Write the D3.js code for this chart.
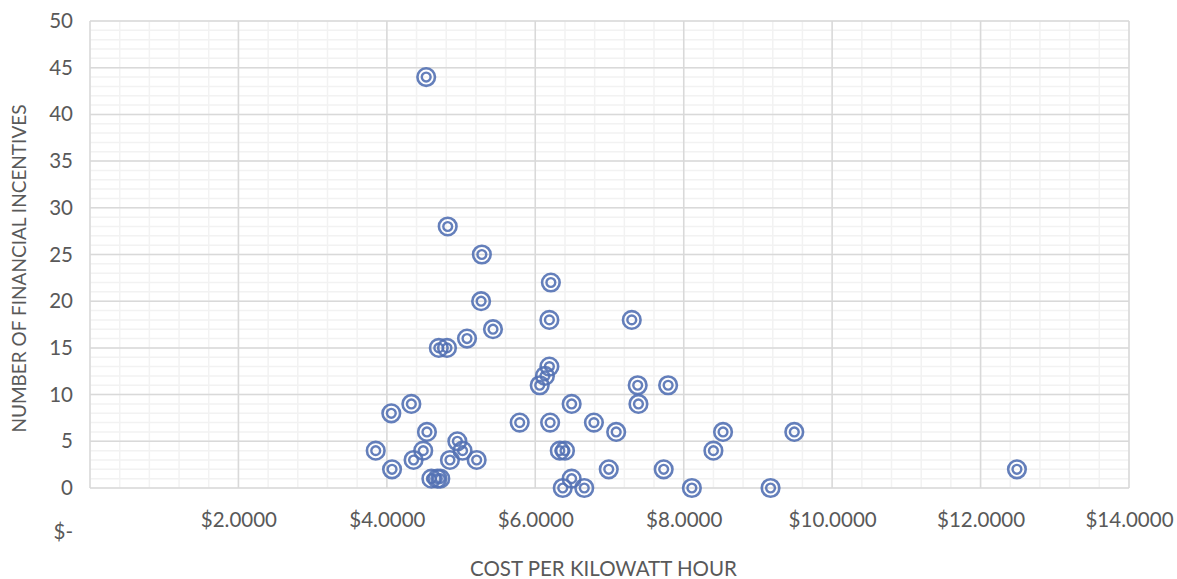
<!DOCTYPE html>
<html>
<head>
<meta charset="utf-8">
<script src="https://cdn.jsdelivr.net/npm/d3@7"></script>
<style>
  html, body { margin: 0; padding: 0; background: #fff; }
  svg text { font-family: Lato, "Open Sans", sans-serif; fill: #595959; }
</style>
</head>
<body>
<svg id="chart" width="1177" height="579"></svg>
<script>
// Cost per kilowatt hour (x) vs. number of financial incentives (y)
const costPerKwh = [
  4.53, 4.82, 5.28, 6.21, 5.27, 6.19, 7.30, 5.43, 5.08, 4.70,
  4.81, 6.19, 6.13, 6.06, 7.38, 7.79, 4.33, 6.49, 7.39, 4.06,
  5.79, 6.20, 6.79, 4.54, 7.09, 8.53, 9.49, 4.95, 5.02, 3.85,
  4.49, 6.33, 6.40, 8.40, 4.36, 4.85, 5.21, 4.07, 6.99, 7.73,
  12.49, 4.60, 4.68, 4.72, 6.49, 6.37, 6.66, 8.11, 9.17
];
const incentives = [
  44, 28, 25, 22, 20, 18, 18, 17, 16, 15,
  15, 13, 12, 11, 11, 11, 9, 9, 9, 8,
  7, 7, 7, 6, 6, 6, 6, 5, 4, 4,
  4, 4, 4, 4, 3, 3, 3, 2, 2, 2,
  2, 1, 1, 1, 1, 0, 0, 0, 0
];
const xTicks = [0, 2, 4, 6, 8, 10, 12, 14];
const yTicks = [0, 5, 10, 15, 20, 25, 30, 35, 40, 45, 50];
const xTitle = "COST PER KILOWATT HOUR";
const yTitle = "NUMBER OF FINANCIAL INCENTIVES";

const svg = d3.select("#chart");
const margin = { left: 90, right: 48, top: 21, bottom: 91 };
const W = 1177, H = 579;
const iw = W - margin.left - margin.right;
const ih = H - margin.top - margin.bottom;

const x = d3.scaleLinear().domain([0, 14]).range([margin.left, margin.left + iw]);
const y = d3.scaleLinear().domain([0, 50]).range([margin.top + ih, margin.top]);

const grid = svg.append("g");
// minor gridlines
grid.selectAll("line.xm").data(d3.range(0, 14.001, 0.4)).join("line")
  .attr("x1", d => x(d)).attr("x2", d => x(d))
  .attr("y1", y(0)).attr("y2", y(50))
  .attr("stroke", "#f2f2f2").attr("stroke-width", 1.5);
grid.selectAll("line.ym").data(d3.range(0, 51, 1)).join("line")
  .attr("y1", d => y(d)).attr("y2", d => y(d))
  .attr("x1", x(0)).attr("x2", x(14))
  .attr("stroke", "#f2f2f2").attr("stroke-width", 1.5);
// major gridlines
grid.selectAll("line.xM").data(xTicks).join("line")
  .attr("x1", d => x(d)).attr("x2", d => x(d))
  .attr("y1", y(0)).attr("y2", y(50))
  .attr("stroke", "#d9d9d9").attr("stroke-width", 1.5);
grid.selectAll("line.yM").data(yTicks).join("line")
  .attr("y1", d => y(d)).attr("y2", d => y(d))
  .attr("x1", x(0)).attr("x2", x(14))
  .attr("stroke", "#d9d9d9").attr("stroke-width", 1.5);

// axes
const fmtX = d => d === 0 ? "$-" : "$" + d3.format(".4f")(d);
const xAxis = svg.append("g")
  .attr("transform", `translate(0,${y(0)})`)
  .call(d3.axisBottom(x).tickValues(xTicks).tickFormat(fmtX).tickSize(0).tickPadding(24));
xAxis.select(".domain").remove();
xAxis.selectAll("text").style("font-size", "20.5px").attr("fill", "#595959");
xAxis.selectAll(".tick").filter(d => d === 0).select("text")
  .attr("text-anchor", "start").attr("x", -37).attr("dy", "1.3em");

const yAxis = svg.append("g")
  .attr("transform", `translate(${x(0)},0)`)
  .call(d3.axisLeft(y).tickValues(yTicks).tickSize(0).tickPadding(17));
yAxis.select(".domain").remove();
yAxis.selectAll("text").style("font-size", "20.5px").attr("fill", "#595959");

// axis titles
svg.append("text")
  .attr("x", x(7) - 6).attr("y", 576)
  .attr("text-anchor", "middle")
  .style("font-size", "20.5px")
  .text(xTitle);
svg.append("text")
  .attr("transform", `translate(26,${y(25) + 14}) rotate(-90)`)
  .attr("text-anchor", "middle")
  .style("font-size", "19px")
  .text(yTitle);

// markers: double ring
const pts = costPerKwh.map((c, i) => ({ c, n: incentives[i] }));
const marks = svg.append("g").selectAll("g").data(pts).join("g")
  .attr("transform", d => `translate(${x(d.c)},${y(d.n)})`);
marks.append("circle").attr("r", 8.8)
  .attr("fill", "none").attr("stroke", "#5371b4").attr("stroke-width", 2.6).attr("stroke-opacity", 0.9);
marks.append("circle").attr("r", 4.4)
  .attr("fill", "none").attr("stroke", "#5371b4").attr("stroke-width", 2.4).attr("stroke-opacity", 0.9);
</script>
</body>
</html>
